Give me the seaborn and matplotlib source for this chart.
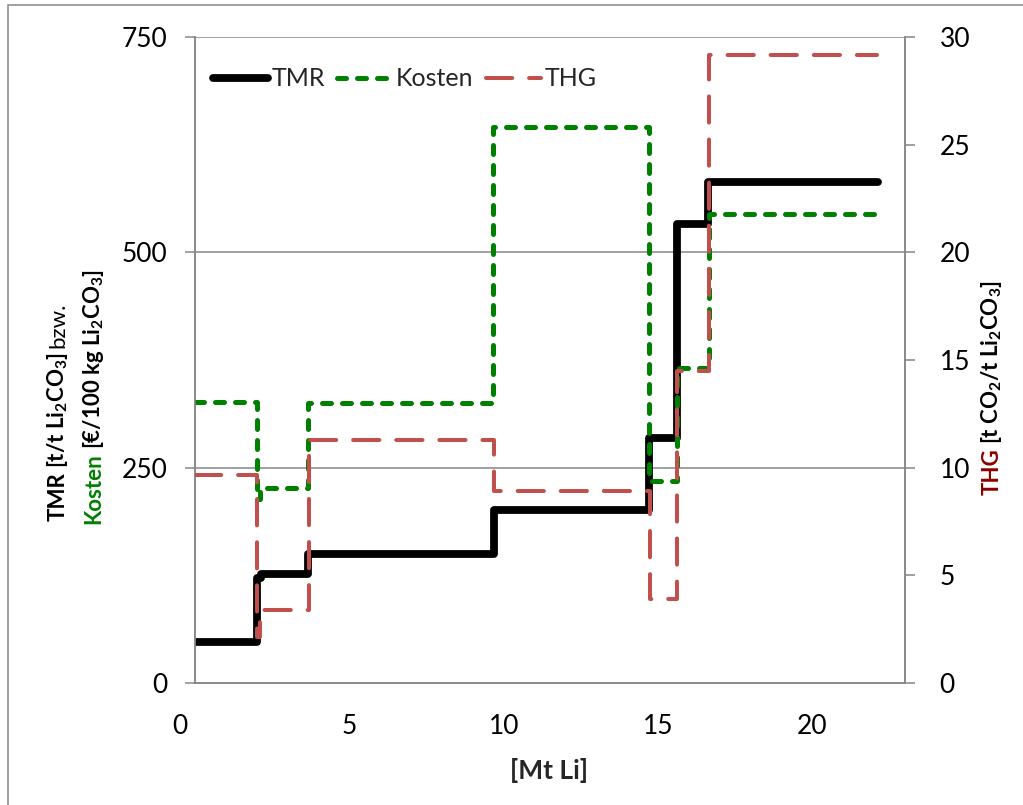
import matplotlib
matplotlib.use("Agg")
import matplotlib.pyplot as plt
import matplotlib.transforms as mtrans
import seaborn as sns
import pandas as pd
from matplotlib.lines import Line2D
from matplotlib.patches import Rectangle

# data (steps, value holds until next x)
tmr_x = [0, 2.0, 2.15, 3.67, 9.68, 14.7, 15.6, 16.62, 22.12]
tmr_y = [48, 122, 127, 150, 201, 285, 533, 582, 582]
kosten_x = [0, 2.0, 2.1, 3.67, 9.66, 14.72, 15.6, 16.64, 22.07]
kosten_y = [326, 214, 226, 325, 646, 234, 366, 545, 545]
thg_x = [0, 2.01, 2.12, 3.68, 9.7, 14.74, 15.62, 16.66, 22.1]
thg_y = [9.65, 2.14, 3.38, 11.27, 8.93, 3.92, 14.48, 29.15, 29.15]

left_ticks = [0, 250, 500, 750]
right_ticks = [0, 5, 10, 15, 20, 25, 30]
x_ticks = [0, 5, 10, 15, 20]

GREY = "#868686"
GREEN = "#008000"
RED = "#C0504D"
DARKRED = "#8B0000"
RED_DASH = (0, (6.5, 4.2))
GREEN_DASH = (0, (1.8, 2.2))

sns.set_style("white")
plt.rcParams["font.family"] = ["Lato", "DejaVu Sans"]
plt.rcParams["mathtext.fontset"] = "custom"
plt.rcParams["mathtext.rm"] = "Lato"
plt.rcParams["mathtext.bf"] = "Lato:bold"
plt.rcParams["mathtext.it"] = "Lato:italic"

W, H = 1023, 805
fig = plt.figure(figsize=(W / 100, H / 100), dpi=100)
ax = fig.add_axes([195 / W, 1 - 683 / H, 710 / W, 646 / H])
ax2 = ax.twinx()

df_tmr = pd.DataFrame({"x": tmr_x, "y": tmr_y})
df_kosten = pd.DataFrame({"x": kosten_x, "y": kosten_y})
df_thg = pd.DataFrame({"x": thg_x, "y": thg_y})

sns.lineplot(data=df_kosten, x="x", y="y", ax=ax, color=GREEN, lw=3.6,
             drawstyle="steps-post", ls=GREEN_DASH, zorder=3)
sns.lineplot(data=df_tmr, x="x", y="y", ax=ax, color="black", lw=5.6,
             drawstyle="steps-post", zorder=2)
sns.lineplot(data=df_thg, x="x", y="y", ax=ax2, color=RED, lw=2.9,
             drawstyle="steps-post", ls=RED_DASH, zorder=4)
for ln in ax.lines + ax2.lines:
    ln.set_dash_capstyle("round")
    ln.set_solid_capstyle("round")
    ln.set_solid_joinstyle("round")

ax.set_xlim(0, 23)
ax.set_ylim(0, 750)
ax2.set_ylim(0, 30)
ax.set_xticks(x_ticks)
ax.set_yticks(left_ticks)
ax2.set_yticks(right_ticks)
ax.set_xlabel("")
ax.set_ylabel("")
ax2.set_ylabel("")

ax.grid(False)
ax2.grid(False)
for v in left_ticks[1:]:
    ax.axhline(v, color=GREY, lw=1.1, zorder=0)

for a in (ax, ax2):
    for s in a.spines.values():
        s.set_color(GREY)
        s.set_linewidth(1.1)
    a.spines["top"].set_visible(False)
ax.tick_params(axis="both", colors=GREY, labelcolor="black", labelsize=19,
               length=7, width=1.1, direction="out")
ax.tick_params(axis="y", pad=13)
ax.tick_params(axis="x", pad=15)
ax2.tick_params(axis="y", colors=GREY, labelcolor="black", labelsize=19,
                length=7, width=1.1, direction="out", pad=18)

# Excel pushes the x "0" label a bit to the left
zero_lbl = ax.get_xticklabels()[0]
zero_lbl.set_transform(zero_lbl.get_transform() +
                       mtrans.ScaledTranslation(-15 / 100, 0, fig.dpi_scale_trans))

# legend
handles = [
    Line2D([], [], color="black", lw=5.6, solid_capstyle="round"),
    Line2D([], [], color=GREEN, lw=3.6, ls=GREEN_DASH, dash_capstyle="round"),
    Line2D([], [], color=RED, lw=2.9, ls=RED_DASH, dash_capstyle="round"),
]
ax2.legend(handles, ["TMR", "Kosten", "THG"], ncol=3, frameon=False,
           loc="center left", bbox_to_anchor=(0.0, 0.935), fontsize=18,
           handlelength=2.2, handletextpad=0.15, columnspacing=0.5,
           borderaxespad=0.3)

# x label
fig.text(549 / W, 1 - 770 / H, "[Mt Li]", fontsize=19, fontweight="bold",
         ha="center", va="center")


def rich_vertical(x_px, y_px, pieces, size=16, gap=4):
    renderer = fig.canvas.get_renderer()
    y = y_px
    for s, color, weight in pieces:
        t = fig.text(x_px / W, y / H, s, color=color, fontweight=weight,
                     fontsize=size, rotation=90, rotation_mode="anchor",
                     ha="left", va="center")
        bb = t.get_window_extent(renderer)
        y += bb.height + gap


sub2 = r"$_\mathbf{2}$"
sub3 = r"$_\mathbf{3}$"
rich_vertical(58, H - 521, [
    ("TMR", "black", "bold"),
    ("[t/t Li" + sub2 + "CO" + sub3 + "]", "black", "bold"),
    ("bzw.", "black", "normal"),
])
rich_vertical(94, H - 524, [
    ("Kosten", GREEN, "bold"),
    ("[€/100 kg Li" + sub2 + "CO" + sub3 + "]", "black", "bold"),
])
rich_vertical(992, H - 495, [
    ("THG", DARKRED, "bold"),
    ("[t CO" + sub2 + "/t Li" + sub2 + "CO" + sub3 + "]", "black", "bold"),
])

# chart area frame
fig.patches.append(Rectangle((8, -20), W + 20, H - 5 + 20, transform=None,
                             fill=False, edgecolor=GREY, lw=1.1))

fig.savefig("out.png", dpi=100)
